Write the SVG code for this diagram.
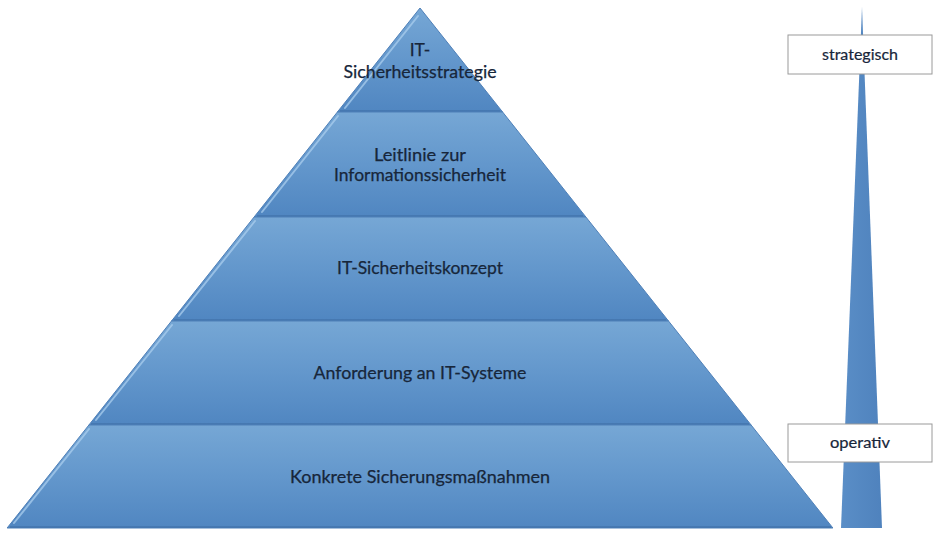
<svg xmlns="http://www.w3.org/2000/svg" width="940" height="535" viewBox="0 0 940 535">
<style>
.lbl{font-family:Lato,"Open Sans","Liberation Sans",sans-serif;font-size:17.5px;fill:#17263a;stroke:#17263a;stroke-width:0.25;text-anchor:middle}
.side{font-family:Lato,"Open Sans","Liberation Sans",sans-serif;font-size:14.5px;fill:#17263a;stroke:#17263a;stroke-width:0.2;text-anchor:middle}
.layer{fill:url(#lg);stroke:#4f80b8;stroke-width:1}
.hl{stroke:#a9cdee;stroke-width:2;stroke-opacity:0.75;fill:none;stroke-linecap:round}
.sh{stroke:#3f6fa6;stroke-width:2;stroke-opacity:0.6;fill:none}
.box{fill:#ffffff;stroke:#9a9a9a;stroke-width:1}
</style>
<defs>
<linearGradient id="lg" x1="0" y1="0" x2="0" y2="1">
<stop offset="0" stop-color="#76a7d5"/>
<stop offset="0.5" stop-color="#6397cc"/>
<stop offset="1" stop-color="#5086c1"/>
</linearGradient>
<linearGradient id="sg" x1="0" y1="0" x2="1" y2="0">
<stop offset="0" stop-color="#5a8ec7"/>
<stop offset="1" stop-color="#4f82bd"/>
</linearGradient>
</defs>
<rect width="940" height="535" fill="#ffffff"/>
<g id="layer1">
<polygon class="layer" points="420,8 502.6,112 337.4,112"/>
<line class="hl" x1="418" y1="16" x2="345" y2="108"/>
<line class="sh" x1="340" y1="111" x2="500" y2="111"/>
<text class="lbl" x="420" y="56">IT-</text>
<text class="lbl" x="420" y="78" textLength="153" lengthAdjust="spacingAndGlyphs">Sicherheitsstrategie</text>
</g>
<g id="layer2">
<polygon class="layer" points="337.4,112 502.6,112 585.9,217 254.1,217"/>
<line class="hl" x1="338" y1="116" x2="262" y2="212"/>
<line class="sh" x1="257" y1="216" x2="583" y2="216"/>
<text class="lbl" x="420" y="161" textLength="92" lengthAdjust="spacingAndGlyphs">Leitlinie zur</text>
<text class="lbl" x="420" y="181" textLength="172" lengthAdjust="spacingAndGlyphs">Informationssicherheit</text>
</g>
<g id="layer3">
<polygon class="layer" points="254.1,217 585.9,217 668.5,321 171.5,321"/>
<line class="hl" x1="255" y1="221" x2="179" y2="316"/>
<line class="sh" x1="174" y1="320" x2="666" y2="320"/>
<text class="lbl" x="420" y="274" textLength="166" lengthAdjust="spacingAndGlyphs">IT-Sicherheitskonzept</text>
</g>
<g id="layer4">
<polygon class="layer" points="171.5,321 668.5,321 751.1,425 88.9,425"/>
<line class="hl" x1="172" y1="325" x2="96" y2="420"/>
<line class="sh" x1="91" y1="424" x2="749" y2="424"/>
<text class="lbl" x="420" y="379" textLength="213" lengthAdjust="spacingAndGlyphs">Anforderung an IT-Systeme</text>
</g>
<g id="layer5">
<polygon class="layer" points="88.9,425 751.1,425 832.9,528 7.1,528"/>
<line class="hl" x1="89" y1="429" x2="14" y2="523"/>
<line class="sh" x1="10" y1="527" x2="831" y2="527"/>
<text class="lbl" x="420" y="483" textLength="260" lengthAdjust="spacingAndGlyphs">Konkrete Sicherungsmaßnahmen</text>
</g>
<g id="scale">
<polygon points="862,7 882,528 841,528" fill="url(#sg)"/>
</g>
<g id="strategisch">
<rect class="box" x="788" y="35" width="144" height="39"/>
<text class="side" x="860" y="60" textLength="76" lengthAdjust="spacingAndGlyphs">strategisch</text>
</g>
<g id="operativ">
<rect class="box" x="788" y="424" width="144" height="38"/>
<text class="side" x="860" y="448" textLength="60" lengthAdjust="spacingAndGlyphs">operativ</text>
</g>
<g id="connectors"></g>
</svg>
